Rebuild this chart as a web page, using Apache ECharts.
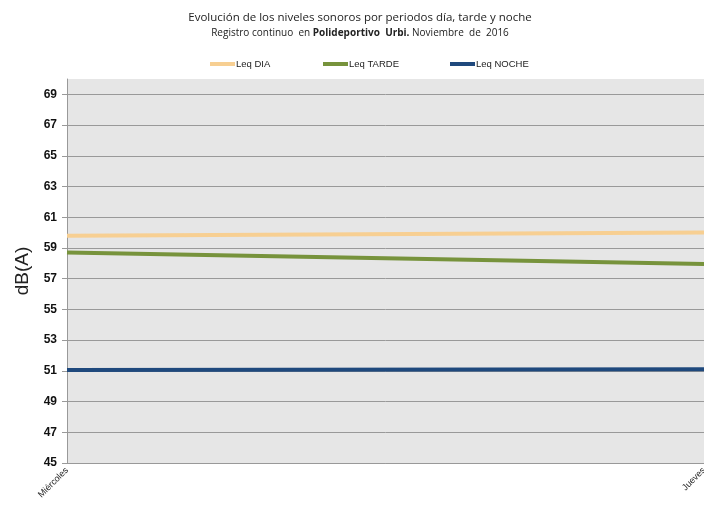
<!DOCTYPE html>
<html><head><meta charset="utf-8">
<script src="https://cdn.jsdelivr.net/npm/echarts@6/dist/echarts.min.js"></script>
<style>html,body{margin:0;padding:0;background:#fff}#c{width:704px;height:512px}</style>
</head><body><div id="c"></div>
<script>
const categories = ['Miércoles', 'Jueves'];
const leqDia = [59.8, 60.0];
const leqTarde = [58.7, 57.95];
const leqNoche = [51.05, 51.1];
const seriesNames = ['Leq DIA', 'Leq TARDE', 'Leq NOCHE'];
const legendLefts = [205, 318, 445];
const colors = ['#f7cf92', '#77933c', '#1f497d'];
const seriesData = [leqDia, leqTarde, leqNoche];

const chart = echarts.init(document.getElementById('c'));
chart.setOption({
  animation: false,
  backgroundColor: '#fff',
  title: {
    text: 'Evolución de los niveles sonoros por periodos día, tarde y noche',
    subtext: '{n|Registro continuo  en }{b|Polideportivo  Urbi.}{n| Noviembre  de  2016}',
    left: 355, textAlign: 'center', top: 7, itemGap: 4,
    textStyle: { fontFamily: 'Open Sans', fontSize: 11.5, fontWeight: 'normal', color: '#222' },
    subtextStyle: {
      rich: {
        n: { fontFamily: 'Open Sans', fontSize: 10, color: '#222' },
        b: { fontFamily: 'Open Sans', fontSize: 10, color: '#222', fontWeight: 'bold' }
      }
    }
  },
  legend: seriesNames.map((n, i) => ({
    top: 54, left: legendLefts[i], itemWidth: 25, itemHeight: 4, icon: 'rect',
    textStyle: { fontFamily: 'Liberation Sans', fontSize: 9.5, color: '#222', padding: [0,0,0,-4] },
    data: [n]
  })),
  grid: { left: 67, right: 0, top: 79, bottom: 49, show: true, backgroundColor: '#e6e6e6', borderWidth: 0, outerBoundsMode: 'none', containLabel: false },
  xAxis: {
    type: 'category', data: categories, boundaryGap: false,
    axisLine: { show: true, lineStyle: { color: '#999' } },
    axisTick: { show: false },
    axisLabel: { rotate: 45, fontFamily: 'Liberation Sans', fontSize: 9, color: '#222', margin: 6 }
  },
  yAxis: {
    type: 'value', min: 45, max: 70, interval: 2,
    name: 'dB(A)', nameLocation: 'middle', nameGap: 30, nameRotate: 90,
    nameTextStyle: { fontFamily: 'Liberation Sans', fontSize: 19, color: '#222' },
    axisLine: { show: true, lineStyle: { color: '#999' } },
    axisTick: { show: true, length: 5, inside: false, lineStyle: { color: '#999' } },
    axisLabel: { showMaxLabel: false, fontFamily: 'Liberation Sans', fontSize: 12, fontWeight: 'bold', color: '#111', margin: 10 },
    splitLine: { show: true, showMaxLine: false, lineStyle: { color: '#999', width: 1 } }
  },
  series: seriesNames.map((n, i) => ({
    name: n, type: 'line', data: seriesData[i], symbol: 'none',
    lineStyle: { width: 4, color: colors[i] }, itemStyle: { color: colors[i] }
  }))
});
</script></body></html>
